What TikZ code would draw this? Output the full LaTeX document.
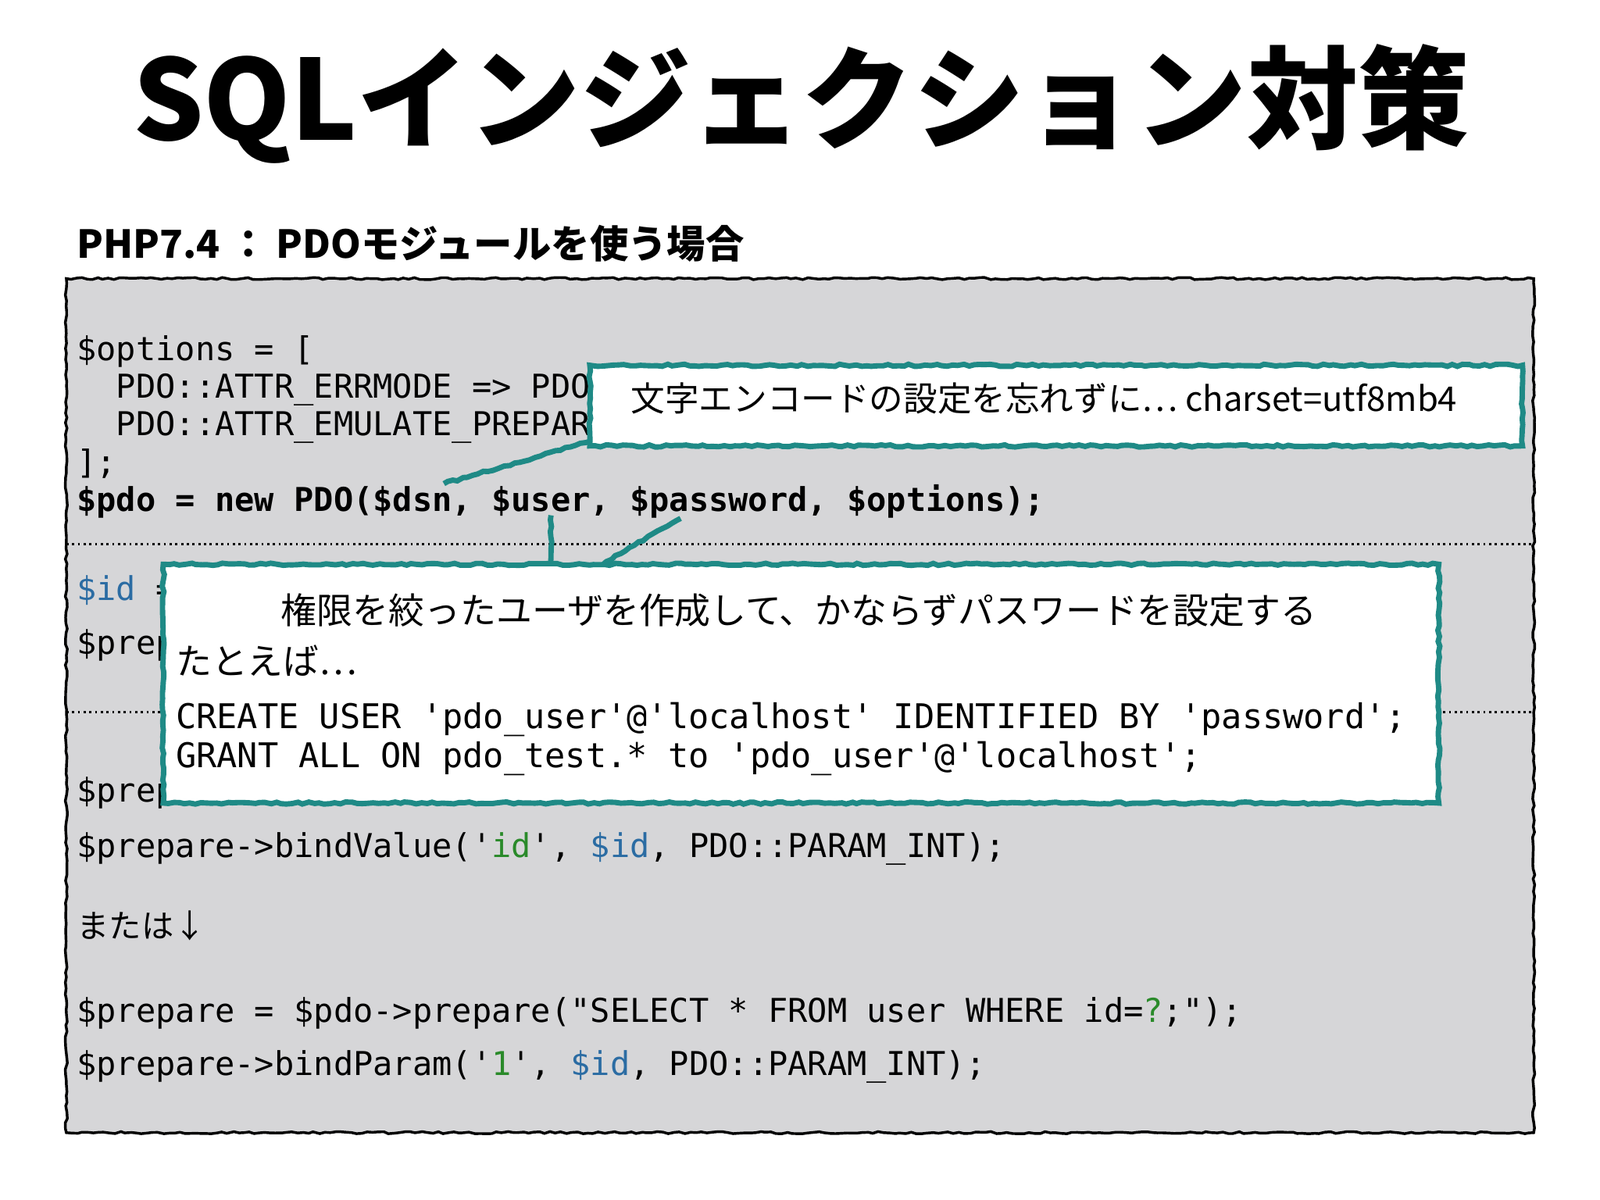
\documentclass[tikz,border=0pt]{standalone}
\usepackage{fontspec}
\setmainfont{Noto Sans CJK JP}
\setmonofont{DejaVu Sans Mono}
\newfontfamily\jpfont{Noto Sans CJK JP}
\usetikzlibrary{decorations.pathmorphing}
\definecolor{boxgray}{HTML}{D6D6D8}
\definecolor{teal1}{HTML}{1F8A86}
\definecolor{idblue}{HTML}{2B6CA3}
\definecolor{strgreen}{HTML}{2A8A2A}
\tikzset{
 code/.style={anchor=base west,inner sep=0,font=\fontsize{18.3}{21}\selectfont\ttfamily},
 rough/.style={decorate,decoration={random steps,segment length=3pt,amplitude=0.6pt}},
 callout/.style={draw=teal1,line width=3pt,fill=white,rough},
 tail/.style={draw=teal1,line width=3pt,rough},
 jtxt/.style={anchor=base west,inner sep=0,font=\fontsize{18}{21}\selectfont\jpfont},
}
\begin{document}
\begin{tikzpicture}[x=0.02cm,y=-0.02cm]
\useasboundingbox[fill=white] (0,0) rectangle (1568,1176);
\node[font=\fontsize{62}{68}\selectfont\bfseries] (title) at (785,102) {SQLインジェクション対策};
\node[anchor=base west,inner sep=0,font=\fontsize{21.5}{26}\selectfont\bfseries] (sub) at (75,253) {PHP7.4 ： PDOモジュールを使う場合};
\draw[fill=boxgray,line width=1.5pt,rough] (65,273) rectangle (1503,1110);
\draw[dotted,line width=1.2pt] (65,533) -- (1503,533);
\draw[dotted,line width=1.2pt] (65,698) -- (1503,698);
\node[code] (l1) at (75,353) {\$options = [};
\node[code] (l2) at (75,390) {\ \ PDO::ATTR\_ERRMODE => PDO::ERRMODE\_EXCEPTION,};
\node[code] (l3) at (75,427) {\ \ PDO::ATTR\_EMULATE\_PREPARES => false,};
\node[code] (l4) at (75,464) {];};
\node[code,font=\fontsize{18.3}{21}\selectfont\ttfamily\bfseries] (l5) at (75,501) {\$pdo = new PDO(\$dsn, \$user, \$password, \$options);};
\node[code] (l6) at (75,588) {\textcolor{idblue}{\$id} = 1;};
\node[code] (l7) at (75,641) {\$prepare};
\node[code] (l8) at (75,786) {\$prepare};
\node[code] (l9) at (75,840) {\$prepare->bindValue('\textcolor{strgreen}{id}', \textcolor{idblue}{\$id}, PDO::PARAM\_INT);};
\node[jtxt] (l10) at (75,919) {または↓};
\node[code] (l11) at (75,1002) {\$prepare = \$pdo->prepare("SELECT * FROM user WHERE id=\textcolor{strgreen}{?};");};
\node[code] (l12) at (75,1054) {\$prepare->bindParam('\textcolor{strgreen}{1}', \textcolor{idblue}{\$id}, PDO::PARAM\_INT);};
% callout 1
\coordinate (t1a) at (580,432);
\coordinate (t1b) at (435,474);
\draw[tail] (t1a) -- (t1b);
\path[callout] (578,358) rectangle (1492,437);
\node[jtxt,font=\fontsize{19}{22}\selectfont\jpfont] (c1) at (618,403) {文字エンコードの設定を忘れずに… charset=utf8mb4};
% callout 2
\coordinate (t2a) at (540,505);
\coordinate (t2b) at (540,556);
\coordinate (t2c) at (667,508);
\coordinate (t2d) at (585,556);
\draw[tail] (t2a) -- (t2b);
\draw[tail] (t2c) -- (t2d);
\path[callout] (160,553) rectangle (1410,787);
\node[jtxt,anchor=base,font=\fontsize{20}{23}\selectfont\jpfont] (c2) at (783,611) {権限を絞ったユーザを作成して、かならずパスワードを設定する};
\node[jtxt,font=\fontsize{20}{23}\selectfont\jpfont] (c3) at (172,661) {たとえば…};
\node[code,font=\fontsize{19}{22}\selectfont\ttfamily] (c4) at (172,714) {CREATE USER 'pdo\_user'@'localhost' IDENTIFIED BY 'password';};
\node[code,font=\fontsize{19}{22}\selectfont\ttfamily] (c5) at (172,752) {GRANT ALL ON pdo\_test.* to 'pdo\_user'@'localhost';};
\end{tikzpicture}
\end{document}
